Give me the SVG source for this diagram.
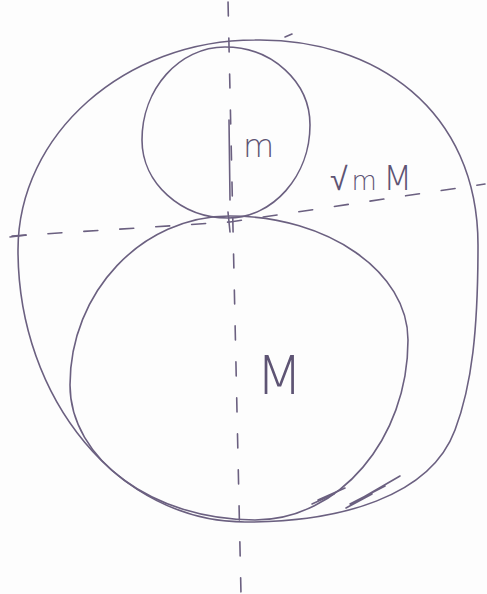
<svg xmlns="http://www.w3.org/2000/svg" width="487" height="594" viewBox="0 0 487 594">
<style>
.s{fill:none;stroke:#6b6080;stroke-width:1.6;stroke-linecap:round;stroke-linejoin:round}
.d{fill:none;stroke:#6b6080;stroke-width:1.6;stroke-linecap:round;stroke-dasharray:14 22}
.t{fill:#5e5474;font-family:"DejaVu Sans","Liberation Sans",sans-serif;font-weight:300}
</style>
<rect width="487" height="594" fill="#fdfdfd"/>
<g id="outer">
<path class="s" d="M255,40 C375,38 478,110 478,245 C478,330 472,385 455,430 C430,497 340,522 245,522 C120,522 18,400 18,250 C18,134 125,40 255,40"/>
<path class="s" d="M285,37 L292,34"/>
</g>
<g id="node-m">
<path class="s" d="M225,47 C272,47 310,82 310,125 C310,176 273,218 228,218 C181,218 142,183 142,140 C142,89 179,47 225,47"/>
<text class="t" x="243" y="157" font-size="32">m</text>
</g>
<g id="node-M">
<path class="s" d="M230,216 C328,216 408,272 408,340 C408,439 339,520 255,520 C153,520 70,459 70,385 C70,292 142,216 230,216"/>
<text class="t" x="256" y="394" font-size="54">M</text>
<path class="s" d="M318,500 L345,488 M312,504 L334,494 M346,508 L372,494 M350,504 L385,486 M362,498 L400,476"/>
</g>
<g id="label-sqrt">
<text class="t" x="330" y="190" font-size="32">√<tspan font-size="26" dx="4">m</tspan><tspan dx="6" font-size="34">M</tspan></text>
</g>
<g id="connectors">
<path class="d" d="M228,0 L241,594" stroke-dashoffset="-2"/>
<path class="s" d="M229,120 L230,200"/>
<path class="d" d="M12,236 L230,222 L485,184"/>
<path class="s" d="M10,237 L26,235 M228,212 L230,232"/>
</g>
</svg>
